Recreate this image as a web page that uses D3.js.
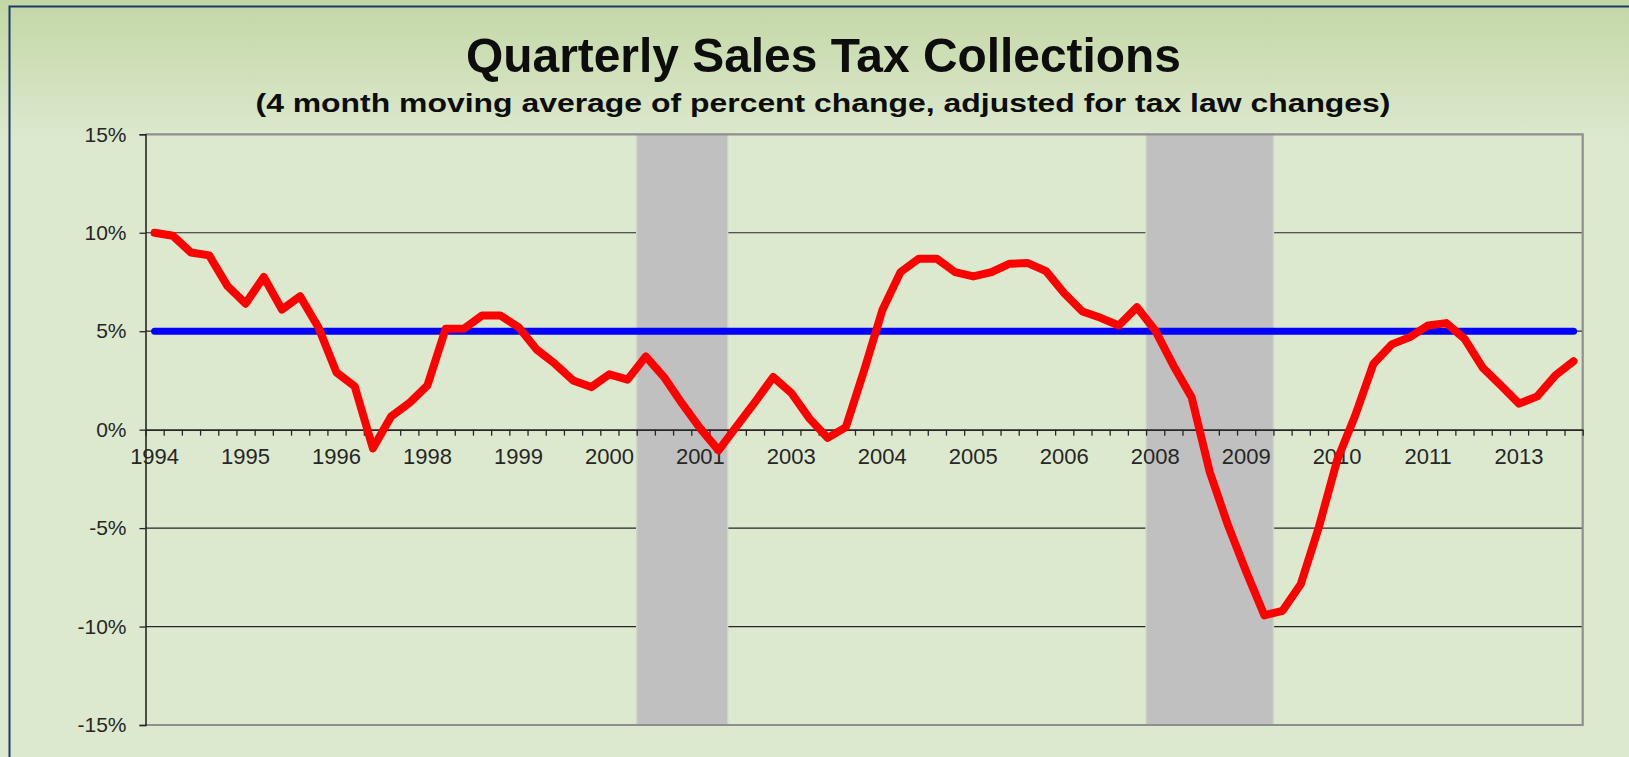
<!DOCTYPE html>
<html>
<head>
<meta charset="utf-8">
<script src="https://cdn.jsdelivr.net/npm/d3@7"></script>
<style>
  html, body { margin: 0; padding: 0; background: #dde9cf; }
  svg { display: block; }
  text { font-family: "Liberation Sans", Arial, sans-serif; }
</style>
</head>
<body>
<svg id="chart" width="1629" height="757"></svg>
<script>
// ---------------- DATA ----------------
const quarters = [
  "1994Q2","1994Q3","1994Q4",
  "1995Q1","1995Q2","1995Q3","1995Q4",
  "1996Q1","1996Q2","1996Q3","1996Q4",
  "1997Q1","1997Q2","1997Q3","1997Q4",
  "1998Q1","1998Q2","1998Q3","1998Q4",
  "1999Q1","1999Q2","1999Q3","1999Q4",
  "2000Q1","2000Q2","2000Q3","2000Q4",
  "2001Q1","2001Q2","2001Q3","2001Q4",
  "2002Q1","2002Q2","2002Q3","2002Q4",
  "2003Q1","2003Q2","2003Q3","2003Q4",
  "2004Q1","2004Q2","2004Q3","2004Q4",
  "2005Q1","2005Q2","2005Q3","2005Q4",
  "2006Q1","2006Q2","2006Q3","2006Q4",
  "2007Q1","2007Q2","2007Q3","2007Q4",
  "2008Q1","2008Q2","2008Q3","2008Q4",
  "2009Q1","2009Q2","2009Q3","2009Q4",
  "2010Q1","2010Q2","2010Q3","2010Q4",
  "2011Q1","2011Q2","2011Q3","2011Q4",
  "2012Q1","2012Q2","2012Q3","2012Q4",
  "2013Q1","2013Q2","2013Q3","2013Q4"
];

// 4 month moving average of percent change (%)
const salesTaxChange = [
  10.0, 9.85, 9.0,
  8.85, 7.3, 6.4, 7.75,
  6.1, 6.77, 5.2, 2.9,
  2.2, -0.95, 0.67, 1.35,
  2.25, 5.12, 5.12, 5.8,
  5.8, 5.21, 4.07, 3.35,
  2.5, 2.16, 2.81, 2.54,
  3.72, 2.67, 1.32, 0.05,
  -1.05, 0.18, 1.4, 2.67,
  1.86, 0.56, -0.42, 0.13,
  3.0, 6.06, 8.0, 8.68,
  8.68, 8.0, 7.78, 8.0,
  8.43, 8.46, 8.05, 6.93,
  6.0, 5.68, 5.29, 6.22,
  5.04, 3.26, 1.65, -2.15,
  -4.85, -7.2, -9.43, -9.2,
  -7.85, -4.94, -1.56, 0.73,
  3.35, 4.33, 4.7, 5.29,
  5.41, 4.62, 3.15, 2.25,
  1.32, 1.69, 2.76, 3.48
];

// long-run benchmark rate (%)
const benchmarkRate = 5;

// recession shading (first and last quarter)
const recessionStart = ["2001Q1", "2008Q1"];
const recessionEnd   = ["2002Q1", "2009Q3"];

// category axis labels
const xLabelQuarters = ["1994Q2","1995Q3","1996Q4","1998Q1","1999Q2","2000Q3","2001Q4","2003Q1",
                        "2004Q2","2005Q3","2006Q4","2008Q1","2009Q2","2010Q3","2011Q4","2013Q1"];
const xLabelText     = ["1994","1995","1996","1998","1999","2000","2001","2003",
                        "2004","2005","2006","2008","2009","2010","2011","2013"];

const yTicks = [-15, -10, -5, 0, 5, 10, 15];

const titleText = "Quarterly Sales Tax Collections";
const subtitleText = "(4 month moving average of percent change, adjusted for tax law changes)";

// ---------------- LAYOUT ----------------
const W = 1629, H = 757;
const plot = { left: 145.5, right: 1582.7, top: 134.3, bottom: 725 };

const svg = d3.select("#chart");

// background gradient
const defs = svg.append("defs");
const grad = defs.append("linearGradient").attr("id", "bg").attr("x1", 0).attr("y1", 0).attr("x2", 0).attr("y2", 1);
grad.append("stop").attr("offset", "0").attr("stop-color", "#c3d7a5");
grad.append("stop").attr("offset", "0.19").attr("stop-color", "#dde9cf");
grad.append("stop").attr("offset", "1").attr("stop-color", "#dde9cf");
svg.append("rect").attr("width", W).attr("height", H).attr("fill", "url(#bg)");

// frame
svg.append("path")
  .attr("d", `M9.5,${H} L9.5,6.5 L${W},6.5`)
  .attr("fill", "none").attr("stroke", "#1b3a6b").attr("stroke-width", 2);

// scales
const x = d3.scaleBand().domain(quarters).range([plot.left, plot.right]).paddingInner(0).paddingOuter(0);
const xIdx = d3.scaleLinear().domain([0, quarters.length]).range([plot.left, plot.right]);
const y = d3.scaleLinear().domain([-15, 15]).range([plot.bottom, plot.top]);
const cx = q => x(q) + x.bandwidth() / 2;

// plot area fill
svg.append("rect")
  .attr("x", plot.left).attr("y", plot.top)
  .attr("width", plot.right - plot.left).attr("height", plot.bottom - plot.top)
  .attr("fill", "#dde9cf");

// gridlines
svg.append("g")
  .selectAll("line")
  .data(yTicks.filter(d => d !== 0 && Math.abs(d) !== 15))
  .join("line")
  .attr("x1", plot.left).attr("x2", plot.right)
  .attr("y1", d => y(d)).attr("y2", d => y(d))
  .attr("stroke", "#262626").attr("stroke-width", 1.2);

// recession bands
svg.append("g")
  .selectAll("rect")
  .data(recessionStart.map((s, i) => ({ s, e: recessionEnd[i] })))
  .join("rect")
  .attr("x", d => x(d.s))
  .attr("width", d => x(d.e) + x.bandwidth() - x(d.s))
  .attr("y", plot.top).attr("height", plot.bottom - plot.top)
  .attr("fill", "#c0c0c0")
  .attr("stroke", "#cfd6c8").attr("stroke-width", 1.5);

// plot border (top, right, bottom)
svg.append("path")
  .attr("d", `M${plot.left},${plot.top} L${plot.right},${plot.top} L${plot.right},${plot.bottom} L${plot.left},${plot.bottom}`)
  .attr("fill", "none").attr("stroke", "#8f8f8f").attr("stroke-width", 2.2);

// y axis
const yAxis = svg.append("g")
  .attr("transform", `translate(${plot.left},0)`)
  .call(d3.axisLeft(y).tickValues(yTicks).tickFormat(d => d + "%").tickSize(6).tickPadding(13));
yAxis.select(".domain").attr("stroke", "#262626").attr("stroke-width", 1.6);
yAxis.selectAll(".tick line").attr("stroke", "#262626").attr("stroke-width", 1.3);
yAxis.selectAll(".tick text")
  .attr("fill", "#262626")
  .style("font-size", "21px")
  .style("font-family", "'Liberation Sans', Arial, sans-serif");

// x axis: tick marks at category boundaries
const xTickAxis = svg.append("g")
  .attr("transform", `translate(0,${y(0)})`)
  .call(d3.axisBottom(xIdx).tickValues(d3.range(quarters.length + 1)).tickFormat("").tickSize(6).tickSizeOuter(0));
xTickAxis.select(".domain").attr("stroke", "#262626").attr("stroke-width", 1.6);
xTickAxis.selectAll(".tick line").attr("stroke", "#262626").attr("stroke-width", 1.3);

// x axis: labels
const xLabelAxis = svg.append("g")
  .attr("transform", `translate(0,${y(0)})`)
  .call(d3.axisBottom(x).tickValues(xLabelQuarters)
        .tickFormat(q => xLabelText[xLabelQuarters.indexOf(q)]).tickSize(0).tickPadding(0));
xLabelAxis.select(".domain").remove();
xLabelAxis.selectAll(".tick text")
  .attr("y", 34.5).attr("dy", 0)
  .attr("fill", "#262626")
  .style("font-size", "22px")
  .style("font-family", "'Liberation Sans', Arial, sans-serif");

// benchmark line
svg.append("path")
  .datum(quarters)
  .attr("d", d3.line().x(q => cx(q)).y(() => y(benchmarkRate)))
  .attr("fill", "none").attr("stroke", "#0000ff").attr("stroke-width", 7)
  .attr("stroke-linecap", "round");

// sales tax line
svg.append("path")
  .datum(salesTaxChange)
  .attr("d", d3.line().x((d, i) => cx(quarters[i])).y(d => y(d)))
  .attr("fill", "none").attr("stroke", "#ff0000").attr("stroke-width", 8)
  .attr("stroke-linejoin", "round").attr("stroke-linecap", "round");

// titles
svg.append("text")
  .attr("x", 823.5).attr("y", 72)
  .attr("text-anchor", "middle")
  .attr("textLength", 715).attr("lengthAdjust", "spacingAndGlyphs")
  .style("font-size", "49px").style("font-weight", "bold").attr("fill", "#0d0d0d")
  .text(titleText);
svg.append("text")
  .attr("x", 823).attr("y", 111.5)
  .attr("text-anchor", "middle")
  .attr("textLength", 1135).attr("lengthAdjust", "spacingAndGlyphs")
  .style("font-size", "26px").style("font-weight", "bold").attr("fill", "#0d0d0d")
  .text(subtitleText);
</script>
</body>
</html>
